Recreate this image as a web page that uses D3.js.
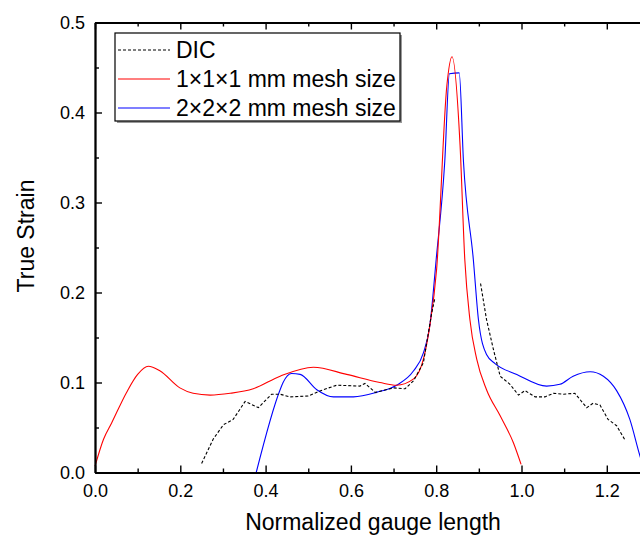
<!DOCTYPE html>
<html>
<head>
<meta charset="utf-8">
<script src="https://cdn.jsdelivr.net/npm/d3@7"></script>
<style>
  body { margin: 0; background: white; }
  svg { display: block; font-family: Arial, "Liberation Sans", sans-serif; }
</style>
</head>
<body>
<svg id="chart" width="640" height="540"></svg>
<script>
//////////////////     DATA
const seriesNames = ["DIC", "1\u00d71\u00d71 mm mesh size", "2\u00d72\u00d72 mm mesh size"];
const xTicks = [0, 0.2, 0.4, 0.6, 0.8, 1.0, 1.2];
const yTicks = [0, 0.1, 0.2, 0.3, 0.4, 0.5];

// DIC : null marks the gap around the neck
const dicX = [0.25, 0.277, 0.301, 0.324, 0.352, 0.383, 0.414, 0.434, 0.457, 0.50, 0.535, 0.567, 0.621, 0.633, 0.657, 0.70, 0.727, 0.747, 0.77, 0.789, 0.797,
  0.85,
  0.904, 0.918, 0.934, 0.95, 0.973, 0.993, 1.008, 1.032, 1.055, 1.075, 1.098, 1.125, 1.153, 1.168, 1.184, 1.203, 1.223, 1.244];
const dicY = [0.010, 0.037, 0.053, 0.059, 0.079, 0.072, 0.087, 0.087, 0.084, 0.085, 0.092, 0.097, 0.096, 0.099, 0.089, 0.094, 0.093, 0.102, 0.122, 0.176, 0.194,
  null,
  0.210, 0.170, 0.137, 0.107, 0.098, 0.086, 0.091, 0.084, 0.084, 0.088, 0.087, 0.088, 0.072, 0.077, 0.075, 0.059, 0.052, 0.035];

// 1x1x1 mm mesh
const fineX = [0, 0.02, 0.039, 0.074, 0.10, 0.125, 0.152, 0.199, 0.23, 0.27, 0.317, 0.371, 0.434, 0.512, 0.59, 0.668, 0.707, 0.747, 0.77, 0.785, 0.801, 0.825, 0.837,
  0.856, 0.867, 0.879, 0.895, 0.918, 0.95, 0.981, 0.999];
const fineY = [0.007, 0.037, 0.055, 0.089, 0.109, 0.118, 0.113, 0.094, 0.088, 0.086, 0.088, 0.093, 0.107, 0.117, 0.109, 0.100, 0.097, 0.104, 0.126, 0.163, 0.226, 0.430, 0.462,
  0.363, 0.237, 0.170, 0.126, 0.092, 0.063, 0.033, 0.009];

// 2x2x2 mm mesh
const coarseX = [0.378, 0.434, 0.441, 0.461, 0.481, 0.52, 0.559, 0.606, 0.66, 0.707, 0.747, 0.77, 0.785, 0.80, 0.82, 0.831, 0.854, 0.864, 0.887, 0.899, 0.918,
  0.938, 0.989, 1.059, 1.09, 1.121, 1.161, 1.192, 1.223, 1.254, 1.278, 1.29];
const coarseY = [0, 0.092, 0.100, 0.110, 0.109, 0.092, 0.084, 0.084, 0.089, 0.097, 0.113, 0.133, 0.163, 0.237, 0.345, 0.443, 0.444, 0.345, 0.237, 0.170, 0.131,
  0.121, 0.109, 0.096, 0.098, 0.107, 0.112, 0.107, 0.091, 0.059, 0.018, 0.0];
//////////////////////////////////////////////////

const svg = d3.select('#chart');
const margin = { top: 22.5, left: 95 };
const height = 450;
const width = 1.3 * 426.5; // plot runs past the right edge of the picture

const xScale = d3.scaleLinear().domain([0, 1.3]).range([0, width]);
const yScale = d3.scaleLinear().domain([0, 0.5]).range([height, 0]);

const g = svg.append('g')
  .attr('transform', `translate(${margin.left},${margin.top})`);

const toPoints = (xs, ys) => xs.map((x, i) => ({ x, y: ys[i] }));

const series = [
  { name: seriesNames[0], points: toPoints(dicX, dicY), color: '#000', dash: '3,2', curve: d3.curveLinear },
  { name: seriesNames[1], points: toPoints(fineX, fineY), color: '#ff0000', dash: null, curve: d3.curveMonotoneX },
  { name: seriesNames[2], points: toPoints(coarseX, coarseY), color: '#0000ff', dash: null, curve: d3.curveMonotoneX }
];

const lineFor = s => d3.line()
  .defined(d => d.y !== null)
  .curve(s.curve)
  .x(d => xScale(d.x))
  .y(d => yScale(d.y))(s.points);

// curves (blue first, red over it at the peak, DIC last)
const drawOrder = [series[2], series[1], series[0]];
g.selectAll('.curve').data(drawOrder)
  .enter().append('path')
    .attr('class', 'curve')
    .attr('d', lineFor)
    .attr('fill', 'none')
    .attr('stroke', d => d.color)
    .attr('stroke-width', 1.1)
    .attr('stroke-dasharray', d => d.dash);

///////////////////////// AXES
const minorX = d3.range(0.1, 1.3, 0.2);
const minorY = d3.range(0.05, 0.5, 0.1);

const styleAxis = (sel) => {
  sel.select('.domain').attr('stroke', '#000').attr('stroke-width', 1.8);
  sel.selectAll('.tick line').attr('stroke', '#000').attr('stroke-width', 1.4);
  sel.selectAll('.tick text').attr('fill', '#000').attr('font-size', 18);
};

// bottom
g.append('g').attr('transform', `translate(0,${height})`)
  .call(d3.axisBottom(xScale).tickValues(xTicks).tickFormat(d3.format('.1f'))
    .tickSizeInner(-7).tickSizeOuter(0).tickPadding(12))
  .call(styleAxis);
g.append('g').attr('transform', `translate(0,${height})`)
  .call(d3.axisBottom(xScale).tickValues(minorX).tickFormat('')
    .tickSizeInner(-4).tickSizeOuter(0))
  .call(styleAxis);

// top
g.append('g')
  .call(d3.axisTop(xScale).tickValues(xTicks).tickFormat('')
    .tickSizeInner(-7).tickSizeOuter(0))
  .call(styleAxis);
g.append('g')
  .call(d3.axisTop(xScale).tickValues(minorX).tickFormat('')
    .tickSizeInner(-4).tickSizeOuter(0))
  .call(styleAxis);

// left
g.append('g')
  .call(d3.axisLeft(yScale).tickValues(yTicks).tickFormat(d3.format('.1f'))
    .tickSizeInner(-7).tickSizeOuter(0).tickPadding(10))
  .call(styleAxis);
g.append('g')
  .call(d3.axisLeft(yScale).tickValues(minorY).tickFormat('')
    .tickSizeInner(-4).tickSizeOuter(0))
  .call(styleAxis);

// axis titles
svg.append('text')
  .attr('x', 373)
  .attr('y', 530)
  .attr('text-anchor', 'middle')
  .attr('font-size', 23)
  .text('Normalized gauge length');

svg.append('text')
  .attr('transform', 'translate(33.5,236) rotate(-90)')
  .attr('text-anchor', 'middle')
  .attr('font-size', 23)
  .text('True Strain');

///////////////////////// LEGEND
const legendG = svg.append('g').attr('transform', 'translate(115,33)');
const legW = 285, legH = 88;

legendG.append('rect')
  .attr('x', 2).attr('y', 2)
  .attr('width', legW).attr('height', legH)
  .attr('fill', '#999');
legendG.append('rect')
  .attr('width', legW).attr('height', legH)
  .attr('fill', 'white')
  .attr('stroke', '#000')
  .attr('stroke-width', 1.2);

const items = legendG.selectAll('.item').data(series)
  .enter().append('g')
    .attr('class', 'item')
    .attr('transform', (d, i) => `translate(0,${17 + i * 29})`);

items.append('line')
  .attr('x1', 3).attr('x2', 55)
  .attr('stroke', d => d.color)
  .attr('stroke-width', 1.1)
  .attr('stroke-dasharray', d => d.dash);

items.append('text')
  .attr('x', 61)
  .attr('dy', '0.35em')
  .attr('font-size', 23)
  .text(d => d.name);
</script>
</body>
</html>
